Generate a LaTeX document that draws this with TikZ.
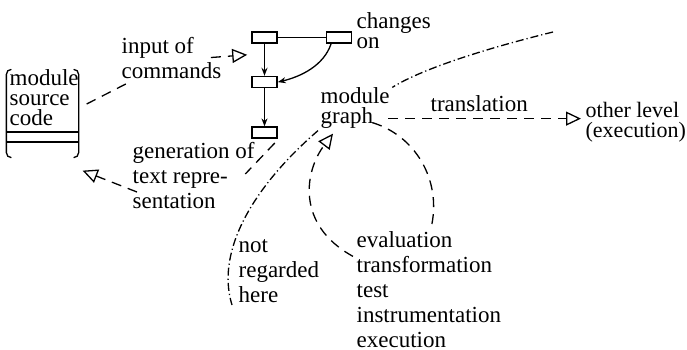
\documentclass[tikz,border=0pt]{standalone}
\usepackage{fontspec}
\setmainfont{Liberation Serif}
\usetikzlibrary{arrows.meta,positioning}
\tikzset{
	gbox/.style={
		rectangle,
		draw,
		line width=0.8pt,
		minimum width=12.5pt,
		minimum height=5.5pt,
		inner sep=0pt
	}
}

\begin{document}
\begin{tikzpicture}[x=0.5pt,y=-0.5pt,line width=0.65pt]
		\tikzstyle{lbl}=[font=\fontsize{11.5pt}{12.5pt}\selectfont, align=left, inner sep=0pt, anchor=base west]
		\tikzstyle{lbltight}=[lbl, font=\fontsize{11.5pt}{10pt}\selectfont]
		\tikzstyle{connect}=[-{Stealth[length=4pt,width=3pt]}]
		\tikzstyle{flow}=[dash pattern=on 5pt off 3.5pt]
		\tikzstyle{tri}=[-{Triangle[open,length=7.5pt,width=7pt]}]
		\tikzstyle{border}=[dash pattern=on 4pt off 1.5pt on 0.6pt off 1.5pt]
		\useasboundingbox (0,0) rectangle (687,349);

		% module source code
		\node[minimum width=35.5pt, minimum height=43.5pt, inner sep=0pt] (src) at (42.5,113.5) {};
		\node[lbltight] (srctext) at (9,125) {module\\source\\code};
		\draw[rounded corners=2.5pt] ([shift={(5,0)}]src.north west) -- (src.north west) -- (src.south west) -- ([shift={(5,0)}]src.south west);
		\draw[rounded corners=2.5pt] ([shift={(-5,0)}]src.north east) -- (src.north east) -- (src.south east) -- ([shift={(-5,0)}]src.south east);
		\draw ([shift={(0,18.5)}]src.west) -- ([shift={(0,18.5)}]src.east);
		\draw ([shift={(0,28.5)}]src.west) -- ([shift={(0,28.5)}]src.east);

		% module graph
		\node[gbox] (g1) at (264.5,37.5) {};
		\node[gbox, right=24pt of g1] (g2) {};
		\node[gbox, below=16pt of g1] (g3) {};
		\node[gbox, below=19pt of g3] (g4) {};
		\path
		(g1) edge (g2)
		(g1) edge [connect] (g3)
		(g3) edge [connect] (g4)
		;
		\draw[connect] ([shift={(-8,0)}]g2.south) .. controls +(-7.5,22) and +(23,-5.5) .. (g3.east);

		% labels
		\node[lbl] (input) at (121,78) {input of\\commands};
		\node[lbltight] (changes) at (356,48) {changes\\on};
		\node[lbltight] (modgraph) at (320,123) {module\\graph};
		\node[lbl] (transl) at (430,111) {translation};
		\node[lbl, font=\fontsize{11pt}{10pt}\selectfont] (other) at (585,137) {other level\\(execution)};
		\node[lbl] (gen) at (132,208) {generation of\\text repre-\\sentation};
		\node[lbl] (notreg) at (238,302) {not\\regarded\\here};
		\node[lbl] (ops) at (356,347) {evaluation\\transformation\\test\\instrumentation\\execution};

		% border of the regarded part
		\coordinate (ddtop) at (553,32);
		\coordinate (ddbot) at (232,305);
		\draw[border] (ddtop) .. controls (480,50) and (420,70) .. ([shift={(2,1)}]modgraph.north east);
		\draw[border] ([shift={(-2,2)}]modgraph.south west) .. controls (255,185) and (215,250) .. (ddbot);

		% flows
		\draw[flow] ([shift={(8,-9.5)}]src.east) -- ([shift={(7,4)}]input.south west);
		\draw[flow,tri] ([shift={(-11,0)}]input.east) -- ([shift={(-4,11)}]g1.south west);
		\draw[flow] ([shift={(-3,4)}]g4.south east) -- ([shift={(-10,-1)}]gen.east);
		\draw[flow,tri] ([shift={(5,17)}]gen.west) -- ([shift={(4,13)}]src.south east);
		\coordinate (tstart) at ([shift={(-2,-10)}]modgraph.south east);
		\draw[flow,tri,shorten >=2pt] (tstart) -- (tstart -| other.west);
		\draw[flow] ([shift={(-18,-6)}]modgraph.south east) .. controls +(43,13) and +(9,-45) .. ([shift={(3,-6)}]ops.north);
		\draw[flow,tri] ([shift={(-3,26)}]ops.north west) .. controls +(-58,-32) and +(-28,37) .. ([shift={(13,5)}]modgraph.south west);
\end{tikzpicture}
\end{document}
